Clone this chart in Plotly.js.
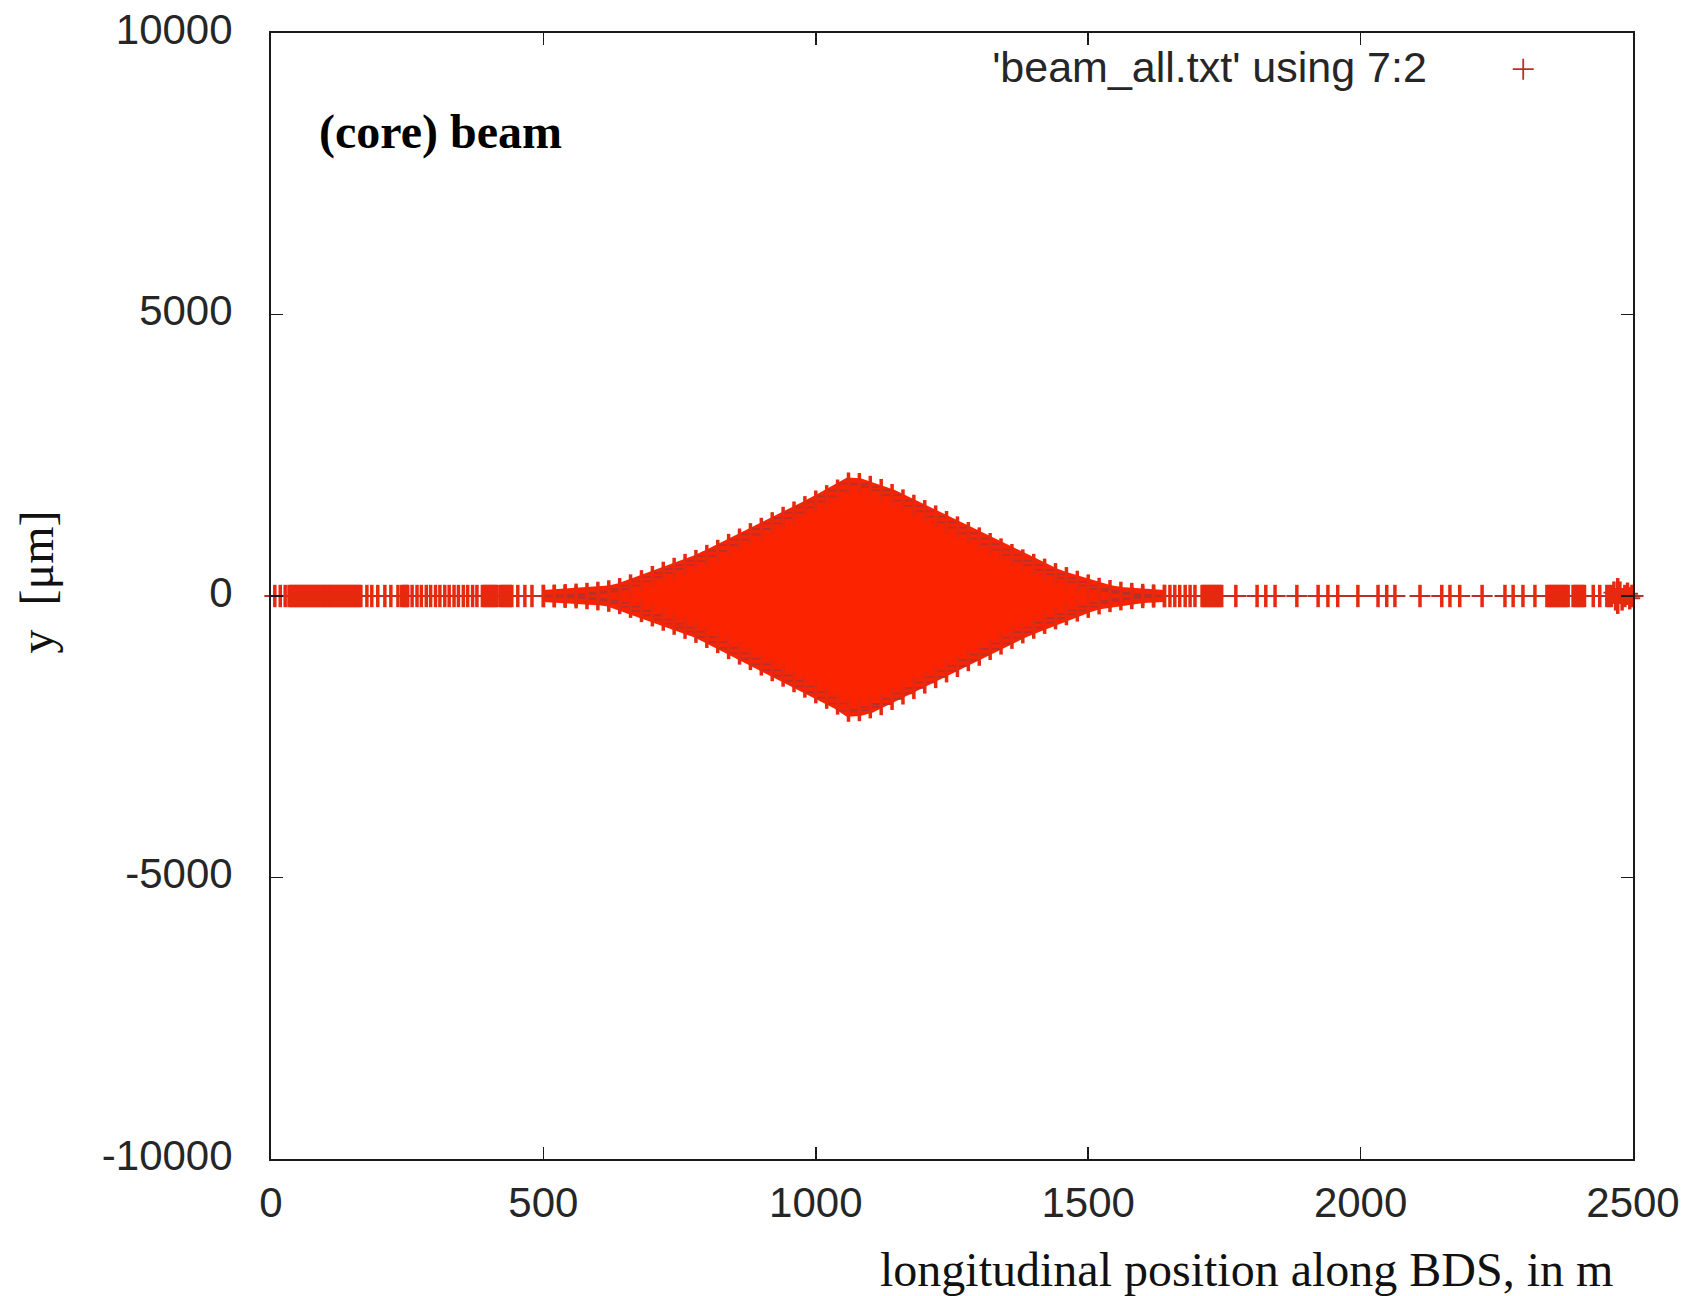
<!DOCTYPE html>
<html>
<head>
<meta charset="utf-8">
<script src="https://cdn.plot.ly/plotly-3.0.1.min.js"></script>
<style>html,body{margin:0;padding:0;background:#fff;}#chart{width:1691px;height:1296px;}</style>
</head>
<body>
<div id="chart"></div>
<script>
// ---- data ----
// x tick labels and y tick labels
const xTickVals = [0, 500, 1000, 1500, 2000, 2500];
const xTickLabels = ['0', '500', '1000', '1500', '2000', '2500'];
const yTickVals = [-10000, -5000, 0, 5000, 10000];
const yTickLabels = ['-10000', '-5000', '0', '5000', '10000'];

// longitudinal positions (m) of on-axis particles (left part of the line)
const flatLeftS = [7, 17, 26,
  33, 36, 39, 42, 45, 48, 51, 54, 57, 60, 63, 66, 69, 72, 75, 78, 81, 84, 87, 90, 93, 96, 99,
  102, 105, 108, 111, 114, 117, 120, 123, 126, 129, 132, 135, 138, 141, 144, 147, 150, 153, 156, 159, 162, 165,
  176, 185, 196, 209, 220, 233, 240, 243, 246, 249, 251,
  259, 268, 276, 285, 293, 302, 310, 319, 327, 336, 344, 353, 361, 370, 378,
  388, 391, 394, 397, 400, 403, 406, 409, 412, 415,
  421, 424, 427, 430, 433, 436, 439, 442,
  453, 466, 479];
// longitudinal positions (m) of on-axis particles (right part of the line)
const flatRightS = [1650, 1659, 1668, 1678, 1687, 1696,
  1709, 1712, 1715, 1718, 1721, 1724, 1727, 1730, 1733, 1736, 1739, 1742, 1745,
  1771, 1810, 1826, 1843, 1883, 1922, 1940, 1958, 1995, 2032, 2048, 2063,
  2109, 2149, 2164, 2182, 2223, 2265, 2280, 2298, 2320,
  2342, 2345, 2348, 2351, 2354, 2357, 2360, 2363, 2366, 2369, 2372, 2375, 2378, 2381,
  2390, 2393, 2396, 2399, 2402, 2405, 2408, 2411, 2427, 2439];
// cluster at the final focus
const endS = [2452, 2456, 2460, 2465, 2468, 2472, 2472, 2476, 2480, 2485, 2490, 2494, 2498, 2500];
const endY = [0, 0, 0, 60, -60, 120, -120, 60, -60, 0, 40, -40, 0, 0];

// beam envelope in the diamond-shaped region (m, micrometres)
const beamS = [500, 520, 540, 560, 580, 600, 620, 640, 660, 680, 700, 720, 740, 760, 780, 800,
  820, 840, 860, 880, 900, 920, 940, 960, 980, 1000, 1020, 1040, 1060, 1080, 1100, 1120,
  1140, 1160, 1180, 1200, 1220, 1240, 1260, 1280, 1300, 1320, 1340, 1360, 1380, 1400, 1420,
  1440, 1460, 1480, 1500, 1520, 1540, 1560, 1580, 1600, 1620, 1640];
const beamYMax = [0, 5, 12, 22, 35, 55, 80, 120, 185, 260, 335, 410, 480, 550, 620, 710,
  800, 905, 1000, 1095, 1190, 1290, 1385, 1480, 1575, 1675, 1770, 1870, 1995, 1985, 1935, 1880,
  1790, 1695, 1600, 1505, 1410, 1310, 1215, 1115, 1020, 920, 825, 725, 630, 550, 465,
  385, 315, 250, 185, 125, 85, 55, 35, 18, 8, 0];
const beamYMin = [0, -5, -12, -22, -36, -56, -82, -123, -190, -265, -342, -418, -490, -562, -633, -725,
  -815, -922, -1020, -1117, -1215, -1315, -1412, -1510, -1607, -1708, -1805, -1908, -2035, -2025, -1975, -1918,
  -1826, -1729, -1632, -1535, -1438, -1336, -1240, -1137, -1040, -938, -842, -740, -643, -561, -474,
  -393, -321, -255, -189, -128, -87, -56, -36, -18, -8, 0];

// ---- assemble traces ----
const flatS = flatLeftS.concat(flatRightS);
const allX = flatS.concat(beamS, beamS, endS);
const allY = flatS.map(() => 0).concat(beamYMax, beamYMin, endY);

const envelope = {
  x: beamS.concat(beamS.slice().reverse()),
  y: beamYMax.concat(beamYMin.slice().reverse()),
  mode: 'lines', fill: 'toself', fillcolor: '#fc2300',
  line: {color: '#fc2300', width: 12},
  showlegend: false, hoverinfo: 'skip'
};
const plusMarks = {
  x: allX, y: allY, mode: 'markers', cliponaxis: false, name: '\u00a0',
  marker: {symbol: 'cross-thin', size: 15, color: '#b8302a', line: {color: '#b8302a', width: 1.8}},
  showlegend: true
};
const verticalArms = {
  x: allX, y: allY, mode: 'markers', cliponaxis: false,
  marker: {symbol: 'line-ns', size: 16, color: '#e6290f', line: {color: '#e6290f', width: 3.5}},
  showlegend: false, hoverinfo: 'skip'
};

const axisCommon = {
  showline: true, linecolor: '#1a1a1a', linewidth: 2, mirror: 'allticks',
  ticks: 'inside', ticklen: 12, tickwidth: 1.5, tickcolor: '#1a1a1a',
  showgrid: false, zeroline: false,
  tickfont: {family: 'Liberation Sans, Arial, sans-serif', size: 42, color: '#262626'}
};

const layout = {
  width: 1691, height: 1296,
  margin: {l: 271, r: 58, t: 33, b: 137},
  paper_bgcolor: '#ffffff', plot_bgcolor: '#ffffff',
  xaxis: Object.assign({}, axisCommon, {
    range: [0, 2500], tickmode: 'array', tickvals: xTickVals, ticktext: xTickLabels,
    ticklabelstandoff: 6
  }),
  yaxis: Object.assign({}, axisCommon, {
    range: [-10000, 10000], tickmode: 'array', tickvals: yTickVals, ticktext: yTickLabels,
    ticklabelstandoff: 28, ticklabelshift: -4
  }),
  showlegend: true,
  legend: {
    x: 0.528, xanchor: 'left', y: 1.006, yanchor: 'top',
    bgcolor: 'rgba(0,0,0,0)', borderwidth: 0,
    font: {family: 'Liberation Sans, Arial, sans-serif', size: 56, color: '#262626'},
    title: {text: "'beam_all.txt' using 7:2\u00a0\u00a0\u00a0\u00a0\u00a0\u2009", side: 'left',
      font: {family: 'Liberation Sans, Arial, sans-serif', size: 43, color: '#262626'}}
  },
  annotations: [
    {text: '<b>(core) beam</b>', xref: 'paper', yref: 'paper', x: 0.034, y: 0.912,
     xanchor: 'left', yanchor: 'middle', showarrow: false,
     font: {family: 'Liberation Serif, Times New Roman, serif', size: 48, color: '#000'}},
    {text: 'longitudinal position along BDS, in m', xref: 'paper', yref: 'paper', x: 1, y: 0,
     xanchor: 'right', yanchor: 'middle', xshift: -18, yshift: -110, showarrow: false,
     font: {family: 'Liberation Serif, Times New Roman, serif', size: 48, color: '#111'}},
    {text: 'y\u00a0\u00a0[\u03bcm]', xref: 'paper', yref: 'paper', x: 0, y: 0.512,
     xanchor: 'center', yanchor: 'middle', xshift: -235, textangle: -90, showarrow: false,
     font: {family: 'Liberation Serif, Times New Roman, serif', size: 48, color: '#111'}}
  ]
};

Plotly.newPlot('chart', [envelope, plusMarks, verticalArms], layout, {displayModeBar: false, staticPlot: true});
</script>
</body>
</html>
